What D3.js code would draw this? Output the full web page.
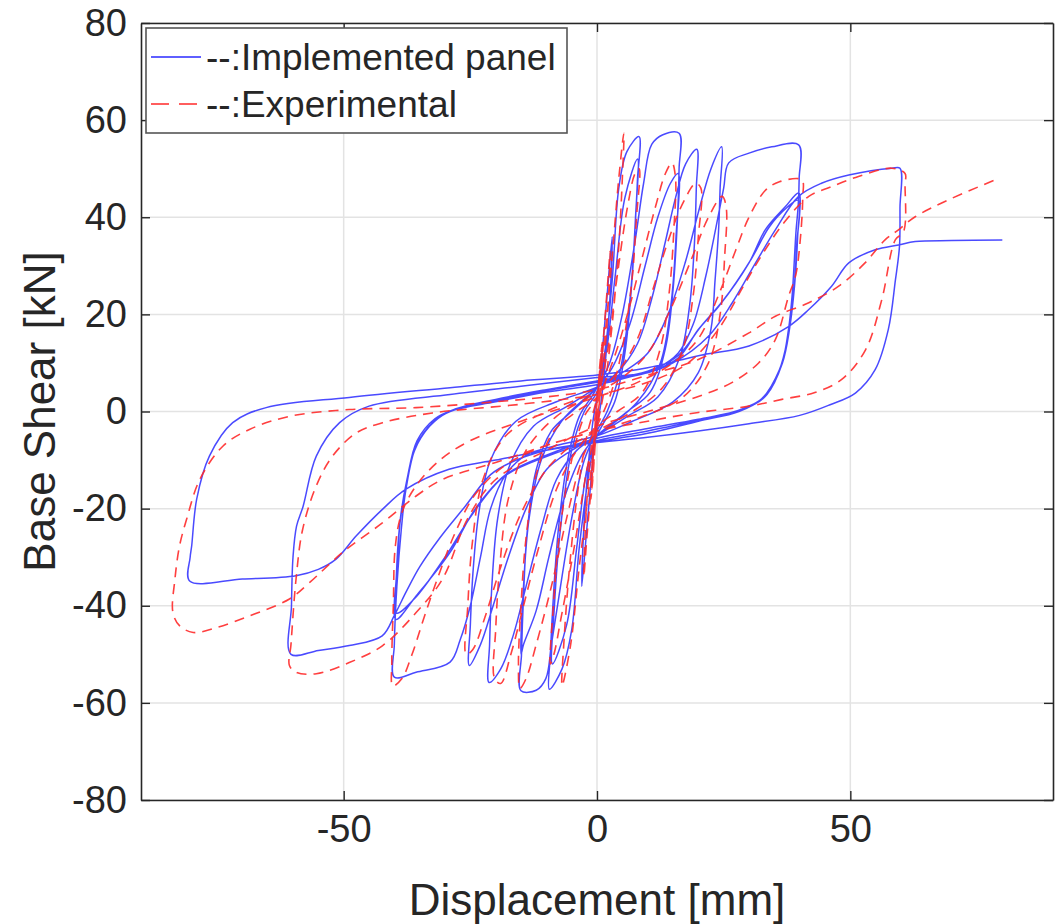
<!DOCTYPE html>
<html>
<head>
<meta charset="utf-8">
<script src="https://cdn.jsdelivr.net/npm/d3@7"></script>
<style>
  html, body { margin: 0; padding: 0; background: #fff; }
  svg { display: block; }
  text { font-family: "Liberation Sans", Arial, Helvetica, sans-serif; fill: #262626; }
</style>
</head>
<body>
<div id="chart"></div>
<script>
// ---------------- DATA ----------------
const xTicks = [-50, 0, 50];
const yTicks = [-80, -60, -40, -20, 0, 20, 40, 60, 80];
const xLabel = "Displacement [mm]";
const yLabel = "Base Shear [kN]";
const seriesNames = ["--:Implemented panel", "--:Experimental"];

// Implemented panel (blue) cycles [displacement mm, base shear kN]
const impl_c0 = [[0,0],[-1,-12],[-2,-24],[-3,-36],[-2.7,-26],[-1.8,-12],[-0.8,-2],[0,3],[1,12],[2,24],[3,36],[2.7,26],[1.8,12],[0.8,2],[0,-3]];
const impl_c1 = [[-1.5,-12],[-3.5,-28],[-5,-45],[-6.9,-53],[-9.4,-57.2],[-9.2,-50],[-8.6,-38],[-7.6,-24],[-5.8,-10],[-3.5,-1],[0,5],[1.5,12],[3,27],[4.3,46],[5.9,53.5],[8.3,56.6],[8,48],[7.6,39.5],[6.9,27],[5.5,12],[3.5,2],[0,-5]];
const impl_c2 = [[-2,-12],[-4,-28],[-6,-44],[-8.8,-52],[-8.4,-40],[-7.2,-24],[-5,-8],[-2.5,0],[0,4],[1.8,12],[3.6,28],[5.5,44],[8,52],[7.6,40],[6.6,24],[4.5,8],[2,0],[0,-4]];
const impl_c3 = [[-2.5,-10],[-5,-22],[-7.5,-38],[-9,-48],[-10.1,-55],[-12,-57.4],[-15,-57.5],[-14.9,-50],[-14.5,-38],[-13.8,-25],[-12,-12],[-9,-4],[-5,0],[0,5],[2.5,10],[5,20],[7.5,35],[9.2,47],[10.8,55],[13,57],[16.2,57.3],[16.2,50],[15.8,38],[15,25],[13.5,13],[10.5,4],[6,0],[0,-5]];
const impl_c4 = [[-3,-9],[-6.5,-18],[-9.5,-30],[-12,-41],[-14.5,-48],[-15,-50],[-14.5,-36],[-13.4,-22],[-11,-10],[-7,-2],[0,5],[3,9],[6.5,18],[9.5,30],[12,40],[14.5,47],[16,49],[15.6,36],[14.6,22],[12.5,10],[8,2],[0,-5]];
const impl_c5 = [[-4,-8],[-8,-14],[-11,-24],[-14,-36],[-16.5,-46],[-19,-53],[-21.3,-55.8],[-21.2,-48],[-20.7,-35],[-19.6,-22],[-17.2,-11],[-12.5,-3],[-6,1],[0,5],[4,8],[8,14],[11,24],[13.5,35],[15.5,44],[17.5,51],[19.7,54],[19.6,46],[19.2,34],[18.3,22],[16.3,11],[12,3],[6,-1],[0,-5]];
const impl_c6 = [[-5,-8],[-10,-12],[-14,-20],[-17.5,-30],[-20.5,-40],[-23,-48],[-25.2,-52.3],[-25,-44],[-24.4,-32],[-23.2,-20],[-21,-10],[-16,-2],[-8,2],[0,5],[5,8],[10,12],[14,20],[17.5,31],[20,41],[22.5,50],[24.6,54.5],[24.3,46],[24,37.4],[23.3,27],[22.5,17],[20,8],[15,2],[7,-2],[0,-5]];
const impl_c7 = [[-8,-7],[-14,-9],[-18,-13],[-21,-20],[-23,-30],[-25,-40],[-27,-47],[-29,-51.6],[-35.7,-53.7],[-40,-54.7],[-40,-48],[-39.5,-36],[-38.6,-24],[-37.7,-16],[-35.7,-7.1],[-32.5,-2.3],[-29,0],[-20,2],[-10,4],[0,5.5],[6,7],[12,9],[16,12],[19,18],[21.5,28],[23.5,38],[25,46],[26,51.2],[30,53.2],[34.5,54.5],[39.8,54.9],[39.9,48],[39.7,42.2],[39.3,37.4],[38.5,23.7],[37.8,16.9],[36.5,10],[33.2,3.1],[28.6,0.4],[20,-1.6],[10,-3.5],[0,-5.5]];
const impl_c8 = [[-10,-9],[-18,-13],[-24,-20],[-29,-29],[-35.7,-38],[-39.7,-42.8],[-39.6,-34],[-39,-24],[-38,-17],[-36,-8],[-33,-3],[-29.5,-0.2],[-20,2.2],[-10,4.3],[0,6],[10,8],[16,11],[20,16.9],[24,21.6],[30,30.6],[33.2,37.4],[37.2,42.2],[39.8,45],[39.6,36],[39,26],[38,17],[36.6,10],[33.5,3.5],[28.8,0.6],[20,-1.8],[10,-4],[0,-6]];
const impl_c9 = [[-10,-9.3],[-18.5,-13.5],[-24.5,-21],[-30,-30],[-36,-38.5],[-39.6,-41.5],[-39.4,-32],[-38.8,-22],[-37.5,-14],[-35.5,-6],[-32,-1.5],[-28,0.5],[-20,2.5],[-10,4.5],[0,6.3],[10,8.3],[16,11.5],[20.5,17.5],[25,23],[30.5,31.5],[34,38],[37.5,42],[39.7,43.5],[39.4,34],[38.8,24],[37.6,15],[36,8.6],[32.5,2.6],[28,0],[20,-2],[10,-4.5],[0,-6.2]];
const impl_c10 = [[-10,-8],[-17,-10.5],[-21,-13],[-26,-19.5],[-31,-26],[-35,-32],[-37.6,-37],[-40,-42],[-42.4,-46.2],[-48.9,-48.2],[-55,-49.2],[-60.4,-50],[-60.3,-40],[-60,-30],[-59.3,-23.6],[-58,-19.5],[-55.4,-9.2],[-50.8,-2.3],[-45,1.1],[-29,3.5],[-15,5.2],[0,7],[10,8],[15,10],[22,15.5],[26.7,22.4],[31.3,30.6],[35.2,37.4],[39.8,44.3],[44.3,47],[49.7,48.7],[58.2,50.1],[59.8,50.1],[59.8,42],[59.7,34],[58.9,27.1],[57.5,16.9],[54.9,8.6],[51,3.8],[46,1.4],[40,-0.8],[30,-2.5],[20,-4],[10,-5.3],[0,-6.4]];
const impl_c11 = [[-10,-8],[-20,-10],[-29.2,-11.9],[-37.7,-16],[-42.3,-20.1],[-47.5,-25.6],[-51.5,-30.4],[-55,-32.5],[-59.4,-33.8],[-70,-34.5],[-80.4,-34.9],[-80.3,-30],[-80,-27.7],[-79,-18],[-76.5,-9.2],[-71.9,-2.3],[-65.3,0.8],[-48.9,2.9],[-29,4.9],[-15,6.3],[0,7.5],[10,9],[20,11.5],[30,13.5],[37.8,17.5],[41.8,21],[46.3,25.8],[49.7,30.6],[54.9,33.3],[59.5,34.3],[62.8,35],[70,35.2],[80,35.3]];

// Experimental (red) cycles
const exp_c0 = [[0,0],[-0.5,-9],[-1,-16],[-0.6,-6],[0,2],[0.5,8],[1,14],[0.6,6],[0,-2],[-0.6,-10],[-1.2,-18],[-0.8,-8],[0,1],[0.6,10],[1.2,15],[0.8,6],[0,-3]];
const exp_c1 = [[-1,-14],[-2,-26],[-2.6,-34],[-2.2,-22],[-1.2,-8],[0,2],[1,12],[2,25],[2.6,33],[2.2,22],[1.2,8],[0,-2]];
const exp_c2 = [[-1.5,-15],[-3.5,-32],[-5.2,-48],[-6.9,-56.5],[-6.5,-47],[-5.5,-33],[-4,-18],[-2,-5],[0,3],[1.5,15],[3,32],[4.3,48],[5.3,57.3],[5,48],[4.3,34],[3,18],[1.5,5],[0,-3]];
const exp_c3 = [[-2,-12],[-4.5,-28],[-7,-42],[-8.5,-50],[-9.2,-52],[-8.6,-40],[-7.4,-25],[-5,-10],[-2.5,-1],[0,3],[2,12],[4,28],[6,42],[7.5,49],[8.3,50],[7.8,40],[6.8,26],[4.8,12],[2.5,3],[0,-3]];
const exp_c4 = [[-3,-10],[-6,-22],[-9,-36],[-12,-48],[-14,-55],[-15.2,-57],[-15.5,-52],[-15,-40],[-14,-26],[-12,-13],[-8.5,-4],[-4,0],[0,3],[3,10],[6,20],[9,32],[11.5,42],[13.5,49],[14.8,51.2],[15.5,48],[15.2,38],[14.3,25],[12.5,13],[9,4],[4,0],[0,-3]];
const exp_c5 = [[-4,-8],[-8,-16],[-11.5,-28],[-14.5,-40],[-17,-50],[-19,-56],[-20.2,-55],[-20,-45],[-19.2,-32],[-17.5,-18],[-14,-8],[-8,-1],[0,4],[4,8],[8,15],[11,25],[14,35],[17,43],[19.5,47],[20.5,46],[20,36],[19,24],[17,13],[13,5],[7,0],[0,-4]];
const exp_c6 = [[-5,-7],[-10,-12],[-15,-21],[-19,-32],[-22,-42],[-24.5,-49],[-25.8,-50],[-25.5,-40],[-24.6,-27],[-22.5,-14],[-18,-5],[-10,0],[0,4],[5,7],[10,12],[14.5,21],[18.5,31],[22,40],[24.7,44.3],[25.5,42],[25.2,32],[24.3,20],[22,10],[17,3],[9,-1],[0,-4]];
const exp_c7 = [[-10,-7],[-18,-11],[-24,-17],[-28,-25],[-31,-33],[-34,-42],[-36.5,-50],[-38.5,-55],[-40.3,-56.5],[-40.5,-51.6],[-40.2,-40],[-39.8,-27.7],[-38.5,-20.8],[-35.7,-15.3],[-31,-10],[-25,-6],[-15,-2],[0,3],[8,6],[15,10],[20,15],[24,24],[27.3,33],[30,40],[33.2,45.5],[36,47.3],[40.4,47.7],[40.6,44],[40,34],[39.2,28],[37.8,23.7],[35.2,14.8],[31.9,10],[26.7,6],[20,3.1],[10,0],[0,-3]];
const exp_c8 = [[-10,-8],[-20,-14],[-25.5,-22],[-30.5,-34.5],[-35.7,-41.4],[-42.3,-48.2],[-48.9,-51.7],[-55.4,-54],[-59.4,-53.7],[-60.7,-52.3],[-60.4,-48],[-59.4,-34.5],[-58.1,-24.3],[-55.4,-15.3],[-52.2,-9.2],[-47.5,-4.4],[-42.3,-2.3],[-32.5,-0.3],[-15,1.5],[0,3.5],[10,6],[18,10],[24,17],[29,26],[33,33],[37,39],[41.8,44.3],[46.3,46.3],[51.6,48.4],[58.2,50.1],[60.8,49],[60.8,46.7],[60.5,37],[58.9,35.4],[56.2,23],[53,12.7],[48.3,6.6],[43,3.9],[36.5,2.5],[30,1.1],[20,-0.2],[10,-2],[0,-4]];
const exp_c9 = [[-10,-7],[-20,-10.5],[-30.5,-14],[-35.7,-17.4],[-42.3,-22.9],[-50.2,-29],[-56.7,-35.2],[-60.7,-38.6],[-68.6,-42.1],[-75.1,-44.5],[-79.7,-45.5],[-82.4,-44.1],[-83.7,-41.4],[-83.3,-34.5],[-82.4,-27.7],[-81,-22.2],[-78.4,-14],[-73.8,-7.1],[-68.6,-3.7],[-60.7,-1],[-48.9,0.4],[-35.7,0.8],[-20,2],[-10,3],[0,4.5],[10,7.5],[20,10.7],[30,16.2],[35.2,19.6],[41.8,22.4],[47.7,25.8],[52.9,30.6],[56.9,35.4],[59.5,37.4],[62.8,40.1],[69.4,43.6],[78.6,47.7]];

const implCycles = [impl_c0, impl_c1, impl_c2, impl_c3, impl_c4, impl_c5, impl_c6, impl_c7, impl_c8, impl_c9, impl_c10, impl_c11];
const expCycles = [exp_c0, exp_c1, exp_c2, exp_c3, exp_c4, exp_c5, exp_c6, exp_c7, exp_c8, exp_c9];

// ---------------- CHART ----------------
const W = 1055, H = 924;
const L = 141, R = 1053, T = 23, B = 800;
const x = d3.scaleLinear().domain([-90, 90]).range([L, R]);
const y = d3.scaleLinear().domain([-80, 80]).range([B, T]);

const svg = d3.select("#chart").append("svg").attr("width", W).attr("height", H);

svg.append("defs").append("clipPath").attr("id", "clip")
  .append("rect").attr("x", L).attr("y", T).attr("width", R - L).attr("height", B - T);

// grid
const grid = svg.append("g");
grid.selectAll(".gx").data(xTicks).join("line")
  .attr("x1", d => x(d)).attr("x2", d => x(d)).attr("y1", T).attr("y2", B)
  .attr("stroke", "#e3e3e3").attr("stroke-width", 1.5);
grid.selectAll(".gy").data(yTicks).join("line")
  .attr("x1", L).attr("x2", R).attr("y1", d => y(d)).attr("y2", d => y(d))
  .attr("stroke", "#e3e3e3").attr("stroke-width", 1.5);

// lines
const line = d3.line().x(d => x(d[0])).y(d => y(d[1])).curve(d3.curveCatmullRom.alpha(0.5));
const plot = svg.append("g").attr("clip-path", "url(#clip)");

const implPath = [].concat(...implCycles);
const expPath = [].concat(...expCycles);

plot.append("path").datum(implPath).attr("d", line)
  .attr("fill", "none").attr("stroke", "#2a2aff").attr("stroke-width", 1.5)
  .attr("stroke-opacity", 0.85).attr("stroke-linejoin", "round");
plot.append("path").datum(expPath).attr("d", line)
  .attr("fill", "none").attr("stroke", "#ff2a2a").attr("stroke-width", 1.6)
  .attr("stroke-opacity", 0.9).attr("stroke-dasharray", "10,7").attr("stroke-linejoin", "round");

// axes
const axisColor = "#262626";
const fmt = d => String(d);
function styleAxis(g, showText) {
  g.select(".domain").attr("stroke", axisColor).attr("stroke-width", 1.6);
  g.selectAll(".tick line").attr("stroke", axisColor).attr("stroke-width", 1.4);
  g.selectAll(".tick text").attr("fill", axisColor)
    .style("font-size", "38px").style("font-family", "'Liberation Sans', Arial, sans-serif");
  if (!showText) g.selectAll(".tick text").remove();
}
svg.append("g").attr("transform", `translate(0,${B})`)
  .call(d3.axisBottom(x).tickValues(xTicks).tickSizeInner(-9).tickSizeOuter(0).tickPadding(15).tickFormat(fmt))
  .call(g => styleAxis(g, true));
svg.append("g").attr("transform", `translate(0,${T})`)
  .call(d3.axisTop(x).tickValues(xTicks).tickSizeInner(-9).tickSizeOuter(0))
  .call(g => styleAxis(g, false));
svg.append("g").attr("transform", `translate(${L},0)`)
  .call(d3.axisLeft(y).tickValues(yTicks).tickSizeInner(-9).tickSizeOuter(0).tickPadding(14).tickFormat(fmt))
  .call(g => styleAxis(g, true));
svg.append("g").attr("transform", `translate(${R},0)`)
  .call(d3.axisRight(y).tickValues(yTicks).tickSizeInner(-9).tickSizeOuter(0))
  .call(g => styleAxis(g, false));

// axis labels
svg.append("text").attr("x", (L + R) / 2).attr("y", 915)
  .attr("text-anchor", "middle").style("font-size", "44px").text(xLabel);
svg.append("text").attr("transform", `translate(55,${(T + B) / 2}) rotate(-90)`)
  .attr("text-anchor", "middle").style("font-size", "44px").text(yLabel);

// legend
const lg = svg.append("g");
lg.append("rect").attr("x", 146).attr("y", 28).attr("width", 421).attr("height", 105)
  .attr("fill", "#fff").attr("stroke", "#555").attr("stroke-width", 1.6);
const legendItems = [
  { name: seriesNames[0], color: "#2a2aff", dash: null, y: 57 },
  { name: seriesNames[1], color: "#ff2a2a", dash: "18,10", y: 104 }
];
legendItems.forEach(it => {
  const l = lg.append("line").attr("x1", 151).attr("x2", 201).attr("y1", it.y).attr("y2", it.y)
    .attr("stroke", it.color).attr("stroke-width", 1.6);
  if (it.dash) l.attr("stroke-dasharray", it.dash);
  lg.append("text").attr("x", 206).attr("y", it.y + 13).style("font-size", "37px").text(it.name);
});
</script>
</body>
</html>
